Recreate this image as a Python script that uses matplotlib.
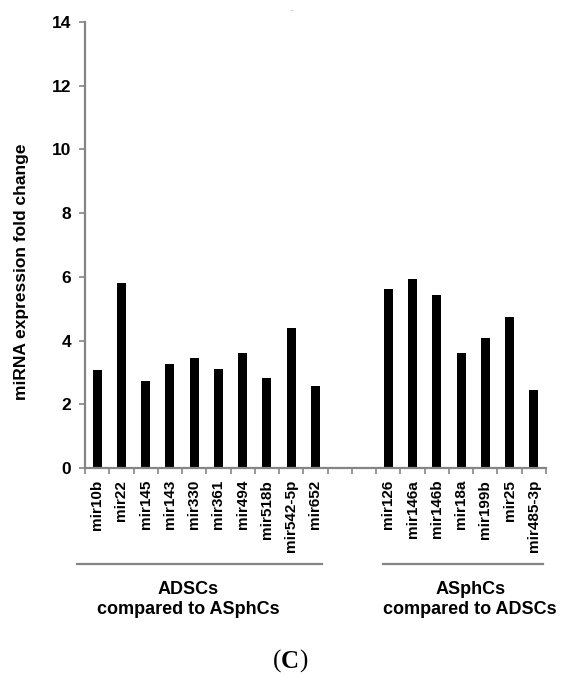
import matplotlib
matplotlib.use("Agg")
import matplotlib.pyplot as plt
from matplotlib.lines import Line2D

plt.rcParams['font.family'] = ['Liberation Sans', 'DejaVu Sans']

# ADSCs compared to ASphCs
left_names = ['mir10b', 'mir22', 'mir145', 'mir143', 'mir330', 'mir361',
              'mir494', 'mir518b', 'mir542-5p', 'mir652']
left_vals = [3.07, 5.8, 2.73, 3.27, 3.46, 3.12, 3.61, 2.81, 4.38, 2.58]

# ASphCs compared to ADSCs
right_names = ['mir126', 'mir146a', 'mir146b', 'mir18a', 'mir199b', 'mir25',
               'mir485-3p']
right_vals = [5.63, 5.93, 5.43, 3.61, 4.08, 4.73, 2.46]

yticks = [0, 2, 4, 6, 8, 10, 12, 14]
gap = 2

axis_grey = '#858585'

fig = plt.figure(figsize=(5.61, 6.75), dpi=100)
ax = fig.add_axes([85 / 561, 1 - 468 / 675, (546 - 85) / 561, (468 - 22) / 675])

left_pos = [i + 0.5 for i in range(len(left_names))]
right_pos = [len(left_names) + gap + i + 0.5 for i in range(len(right_names))]
ncat = len(left_names) + gap + len(right_names)

ax.bar(left_pos, left_vals, width=0.37, color='black')
ax.bar(right_pos, right_vals, width=0.37, color='black')

ax.set_xlim(0, ncat)
ax.set_ylim(0, 14)
ax.set_yticks(yticks)
ax.set_yticklabels([str(t) for t in yticks], fontsize=12.5, fontweight='bold')

ax.set_xticks(range(ncat + 1))
ax.set_xticklabels([])
ax.set_xticks(left_pos + right_pos, minor=True)
ax.set_xticklabels(left_names + right_names, minor=True, rotation=90,
                   fontsize=11, fontweight='bold')
ax.tick_params(axis='x', which='minor', length=0, pad=8.5)
ax.tick_params(axis='x', which='major', length=4.5, width=1.2, color=axis_grey)
ax.tick_params(axis='y', length=4.5, width=1.2, color=axis_grey, pad=5.5)

for s in ['top', 'right']:
    ax.spines[s].set_visible(False)
for s in ['left', 'bottom']:
    ax.spines[s].set_color(axis_grey)
    ax.spines[s].set_linewidth(1.6)

fig.text(22 / 561, 1 - 272 / 675, 'miRNA expression fold change', rotation=90,
         ha='center', va='center', fontsize=12.5, fontweight='bold')

# group brackets
def px(x, y):
    return x / 561, 1 - y / 675

for x0, x1 in [(77, 322), (383, 543)]:
    a, b = px(x0, 564)
    c, _ = px(x1, 564)
    fig.add_artist(Line2D([a, c], [b, b], color=axis_grey, lw=1.6))

fig.text(*px(188, 589), 'ADSCs', ha='center', va='center', fontsize=13, fontweight='bold')
fig.text(*px(188, 610), 'compared to ASphCs', ha='center', va='center', fontsize=13, fontweight='bold')
fig.text(*px(471, 589), 'ASphCs', ha='center', va='center', fontsize=13, fontweight='bold')
fig.text(*px(470, 610), 'compared to ADSCs', ha='center', va='center', fontsize=13, fontweight='bold')

# panel letter: regular parentheses, bold C
fig.text(*px(281, 661), '(', ha='right', va='center', fontsize=18, family='Liberation Serif')
fig.text(*px(290, 661), 'C', ha='center', va='center', fontsize=18, fontweight='bold', family='Liberation Serif')
fig.text(*px(299, 661), ')', ha='left', va='center', fontsize=18, family='Liberation Serif')

fig.text(*px(292, 11), '-', ha='center', va='center', fontsize=6, color='#999999')

fig.savefig('out.png', dpi=100)
